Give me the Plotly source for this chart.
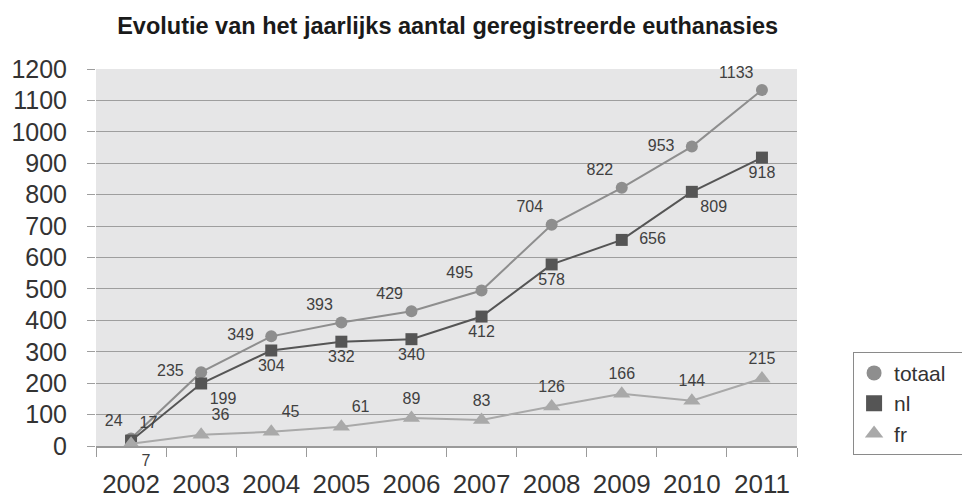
import plotly.graph_objects as go

years = ["2002", "2003", "2004", "2005", "2006", "2007", "2008", "2009", "2010", "2011"]
totaal = [24, 235, 349, 393, 429, 495, 704, 822, 953, 1133]
nl = [17, 199, 304, 332, 340, 412, 578, 656, 809, 918]
fr = [7, 36, 45, 61, 89, 83, 126, 166, 144, 215]

pos_totaal = ["top left", "middle left", "middle left", "top left", "top left",
              "top left", "top left", "top left", "middle left", "top left"]
pos_nl = ["top right", "bottom right", "bottom center", "bottom center", "bottom center",
          "bottom center", "bottom center", "middle right", "bottom right", "bottom center"]
pos_fr = ["bottom right", "top right", "top right", "top right", "top center",
          "top center", "top center", "top center", "top center", "top center"]

FONT = "Liberation Sans, Arial, sans-serif"
lbl_font = dict(family=FONT, size=16, color="#404040")
PAD = "\u00a0\u00a0"


def label(v, pos):
    s = str(v)
    if pos == "middle left":
        return s + PAD
    if pos == "middle right":
        return PAD + s
    return s


series = [
    ("totaal", totaal, pos_totaal, "#8e8e8e", "circle", 12, 15),
    ("nl", nl, pos_nl, "#555555", "square", 12, 19),
    ("fr", fr, pos_fr, "#a9a9a9", "triangle-up", 15, 19),
]

fig = go.Figure()
for name, vals, pos, col, sym, msize, lsize in series:
    fig.add_trace(go.Scatter(
        x=years, y=vals, name=name, mode="lines+markers+text",
        line=dict(color=col, width=2),
        marker=dict(symbol=sym, size=msize, color=col),
        text=[label(v, p) for v, p in zip(vals, pos)], textposition=pos, textfont=lbl_font,
        cliponaxis=False, showlegend=False,
    ))
for name, vals, pos, col, sym, msize, lsize in series:
    fig.add_trace(go.Scatter(
        x=[None], y=[None], name=name + "\u00a0\u00a0\u00a0", mode="markers",
        marker=dict(symbol=sym, size=lsize, color=col),
        showlegend=True,
    ))

fig.update_layout(
    width=962, height=493,
    margin=dict(l=88, r=173, t=61, b=55, autoexpand=False),
    paper_bgcolor="white",
    plot_bgcolor="#e6e6e7",
    title=dict(
        text="<b>Evolutie van het jaarlijks aantal geregistreerde euthanasies</b>",
        x=0.457, xanchor="center", y=0.964, yanchor="middle",
        font=dict(family=FONT, size=23.5, color="#1a1a1a"),
    ),
    font=dict(family=FONT, color="#333333"),
    legend=dict(
        x=1.08, xanchor="left", y=0.25, yanchor="top",
        bgcolor="white", bordercolor="#8a8a8a", borderwidth=1,
        font=dict(size=21, color="#333333"),
        itemsizing="trace", tracegroupgap=0, itemwidth=30,
    ),
    showlegend=True,
)
fig.update_xaxes(
    type="category", tickson="boundaries", range=[-0.5, 9.5],
    ticks="outside", ticklen=9, tickcolor="#9a9a9a", tickwidth=1,
    showgrid=False, showline=True, linecolor="#9a9a9a", linewidth=2,
    tickfont=dict(size=26, color="#333333"), ticklabelstandoff=14,
)
fig.update_yaxes(
    range=[0, 1200], tickvals=list(range(0, 1201, 100)),
    showgrid=True, gridcolor="#9e9e9e", gridwidth=1,
    ticks="outside", ticklen=8, tickcolor="#9e9e9e",
    zeroline=False, showline=False,
    tickfont=dict(size=25, color="#333333"), ticklabelstandoff=15,
)

fig.write_html("out.html")
